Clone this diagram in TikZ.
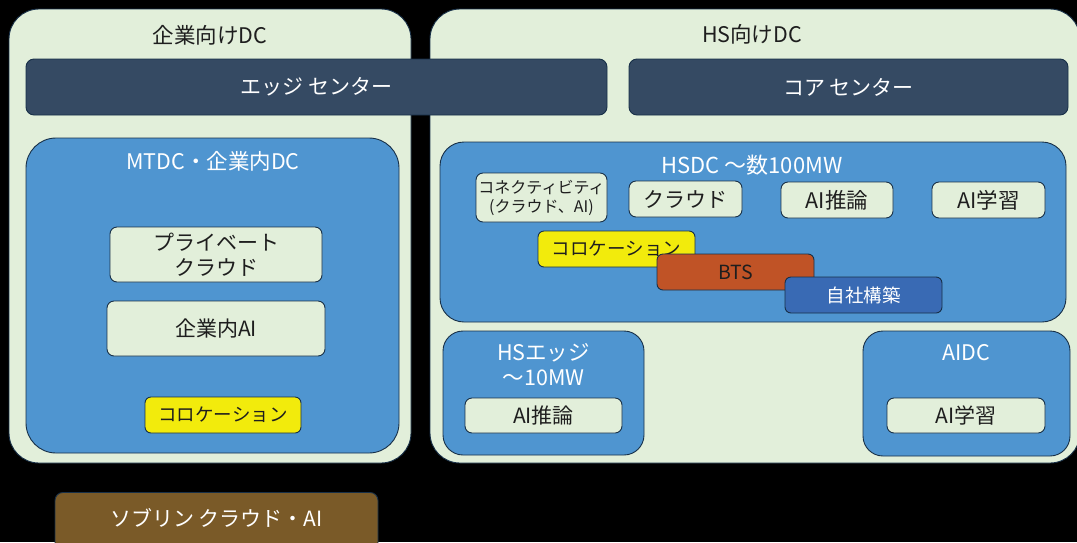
\documentclass[tikz,border=0pt]{standalone}
\usepackage{fontspec}
\setmainfont{Noto Sans CJK JP}
\begin{document}
\begin{tikzpicture}[x=1pt,y=-1pt,
  base/.style={draw=edgecol,line width=0.9pt,inner sep=0pt,align=center},
  outer/.style={base,fill=lightg,rounded corners=30pt},
  bar/.style={base,fill=slate,rounded corners=8pt,text=white,font=\fontsize{21}{24}\selectfont},
  blue/.style={base,fill=bluec,rounded corners=24pt},
  item/.style={base,fill=lightg,rounded corners=7pt,text=txt,font=\fontsize{21}{25}\selectfont},
  colo/.style={base,fill=yel,rounded corners=6pt,text=txt,font=\fontsize{18.5}{21}\selectfont},
  ttl/.style={inner sep=0pt,align=center,font=\fontsize{21.5}{25}\selectfont},
]
\definecolor{lightg}{RGB}{226,239,218}
\definecolor{edgecol}{RGB}{24,48,72}
\definecolor{slate}{RGB}{53,74,99}
\definecolor{bluec}{RGB}{79,149,208}
\definecolor{txt}{RGB}{30,30,30}
\definecolor{yel}{RGB}{242,235,12}
\definecolor{btsc}{RGB}{192,83,38}
\definecolor{ownc}{RGB}{57,106,180}
\definecolor{brown}{RGB}{122,90,40}
\useasboundingbox (0,0) rectangle (1077,542);
\fill[black] (0,0) rectangle (1077,542);
% outer containers
\node[outer,minimum width=402pt,minimum height=454pt] (lo) at (210,236) {};
\node[outer,minimum width=650pt,minimum height=454pt] (ro) at (755,236) {};
\node[ttl,text=txt] (lot) at (210,35) {企業向けDC};
\node[ttl,text=txt] (rot) at (752,34) {HS向けDC};
% bars
\node[bar,minimum width=581pt,minimum height=56pt] (edge) at (316.5,87) {エッジ センター};
\node[bar,minimum width=439pt,minimum height=56pt] (core) at (848.5,87) {コア センター};
% left blue
\node[blue,minimum width=373pt,minimum height=315pt,rounded corners=30pt] (mtdc) at (212.5,295.5) {};
\node[ttl,text=white] (mtdct) at (213,161) {MTDC・企業内DC};
\node[item,minimum width=212pt,minimum height=55pt] (pc) at (216,254.5) {プライベート\\クラウド};
\node[item,minimum width=218pt,minimum height=55pt] (eai) at (216,328.5) {企業内AI};
\node[colo,minimum width=156pt,minimum height=36pt] (colol) at (223,415) {コロケーション};
% sovereign
\node[base,fill=brown,rounded corners=8pt,minimum width=323pt,minimum height=58pt,anchor=north] (sov) at (216.5,492) {};
\node[ttl,text=white,font=\fontsize{21}{24}\selectfont] (sovt) at (216.5,518) {ソブリン クラウド・AI};
% HSDC
\node[blue,minimum width=626pt,minimum height=180pt] (hsdc) at (753,232) {};
\node[ttl,text=white,font=\fontsize{22}{25}\selectfont] (hsdct) at (752,165) {HSDC ～数100MW};
\node[item,minimum width=131pt,minimum height=49pt,font=\fontsize{16}{19}\selectfont] (conn) at (541.5,197.5) {コネクティビティ\\(クラウド、AI)};
\node[item,minimum width=113pt,minimum height=36pt,font=\fontsize{21}{24}\selectfont] (cloud) at (685.5,199) {クラウド};
\node[item,minimum width=112pt,minimum height=36pt,font=\fontsize{21.5}{24}\selectfont] (inf1) at (837,200) {AI推論};
\node[item,minimum width=113pt,minimum height=36pt,font=\fontsize{21.5}{24}\selectfont] (lrn1) at (988.5,200) {AI学習};
\node[colo,minimum width=157pt,minimum height=36pt] (color) at (616.5,249) {コロケーション};
\node[colo,fill=btsc,font=\fontsize{19.5}{22}\selectfont,minimum width=157pt,minimum height=36pt] (bts) at (735.5,272) {BTS};
\node[colo,fill=ownc,text=white,minimum width=157pt,minimum height=36pt] (own) at (863.5,295) {自社構築};
% HS edge
\node[blue,rounded corners=20pt,minimum width=201pt,minimum height=124pt] (hse) at (543.5,393) {};
\node[ttl,text=white] (hset) at (543.5,364.5) {HSエッジ\\～10MW};
\node[item,minimum width=157pt,minimum height=35pt] (inf2) at (543.5,415.5) {AI推論};
% AIDC
\node[blue,rounded corners=20pt,minimum width=207pt,minimum height=125pt] (aidc) at (966.5,393.5) {};
\node[ttl,text=white] (aidct) at (966.5,353) {AIDC};
\node[item,minimum width=158pt,minimum height=35pt] (lrn2) at (966,415.5) {AI学習};
\end{tikzpicture}
\end{document}
